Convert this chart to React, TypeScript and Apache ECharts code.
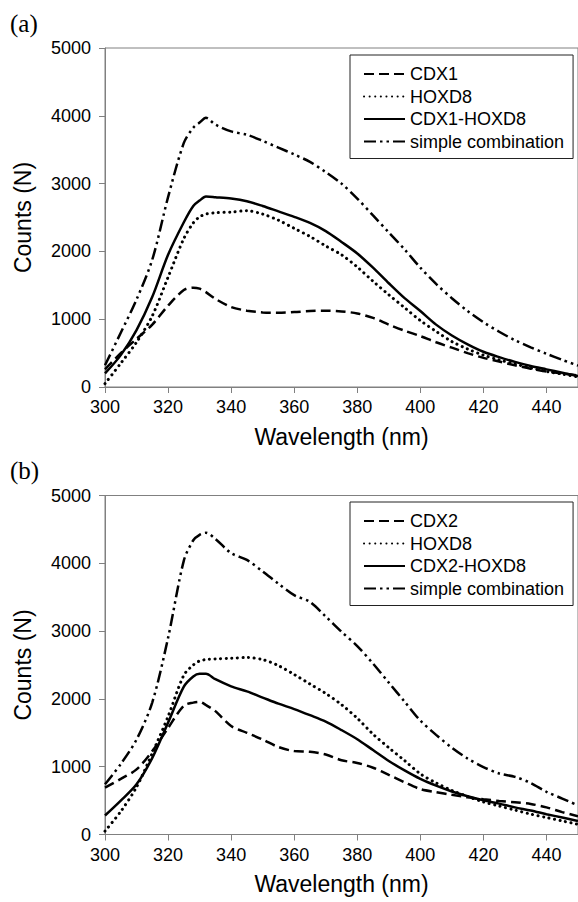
import React, { useEffect, useRef } from "react";
import * as echarts from "echarts";

const wavelengths = [300, 305, 310, 315, 320, 325, 328, 330, 332, 335, 340, 345, 350, 355, 360, 365, 370, 375, 380, 385, 390, 395, 400, 405, 410, 415, 420, 425, 430, 435, 440, 445, 450];

const xTicks = [300, 320, 340, 360, 380, 400, 420, 440];
const yTicks = [0, 1000, 2000, 3000, 4000, 5000];

// Panel (a)
const cdx1A = [260, 500, 710, 920, 1200, 1430, 1465, 1450, 1400, 1300, 1180, 1125, 1100, 1095, 1105, 1120, 1125, 1115, 1085, 1020, 920, 830, 750, 660, 580, 500, 430, 375, 320, 270, 230, 200, 170];
const hoxd8A = [50, 350, 660, 1050, 1620, 2190, 2420, 2510, 2550, 2570, 2580, 2600, 2550, 2460, 2340, 2220, 2080, 1950, 1770, 1560, 1360, 1170, 980, 820, 670, 560, 470, 400, 340, 280, 230, 190, 150];
const cdx1HoxA = [200, 470, 840, 1330, 1950, 2430, 2670, 2750, 2810, 2800, 2780, 2740, 2670, 2590, 2510, 2420, 2300, 2140, 1970, 1760, 1530, 1310, 1120, 920, 760, 630, 520, 440, 370, 310, 260, 210, 160];
const simpleA = [320, 800, 1290, 1880, 2800, 3600, 3825, 3900, 3970, 3870, 3770, 3720, 3630, 3530, 3430, 3320, 3170, 3000, 2780, 2530, 2280, 2030, 1760, 1520, 1310, 1120, 955, 815, 690, 585, 490, 400, 315];

// Panel (b)
const cdx2B = [690, 820, 960, 1230, 1570, 1900, 1945, 1955, 1910, 1820, 1600, 1500, 1400, 1290, 1230, 1220, 1180, 1095, 1055, 985, 880, 770, 670, 625, 585, 548, 520, 495, 475, 450, 400, 330, 270];
const hoxd8B = [50, 340, 700, 1200, 1740, 2350, 2500, 2560, 2580, 2590, 2600, 2610, 2580, 2490, 2360, 2220, 2080, 1915, 1715, 1480, 1280, 1090, 895, 760, 650, 560, 480, 420, 360, 300, 250, 200, 150];
const cdx2HoxB = [280, 500, 740, 1130, 1650, 2180, 2330, 2370, 2370, 2290, 2185, 2110, 2020, 1930, 1850, 1760, 1665, 1540, 1405, 1245, 1085, 945, 820, 720, 635, 565, 505, 455, 400, 355, 300, 250, 200];
const simpleB = [740, 1040, 1400, 1950, 2900, 4040, 4340, 4420, 4450, 4360, 4150, 4050, 3880, 3700, 3530, 3430, 3215, 2990, 2780, 2520, 2240, 1960, 1680, 1470, 1280, 1120, 995, 900, 850, 760, 630, 530, 430];

const namesA = ["CDX1", "HOXD8", "CDX1-HOXD8", "simple combination"];
const namesB = ["CDX2", "HOXD8", "CDX2-HOXD8", "simple combination"];

const FONT = "'Liberation Sans', Arial, sans-serif";
const SERIF = "'Liberation Serif', 'Times New Roman', serif";

const styles: any[] = [
  { width: 2.5, type: [10, 5], cap: "butt" },
  { width: 3, type: [0.1, 5.5], cap: "round" },
  { width: 2.5, type: "solid", cap: "butt" },
  { width: 2.5, type: [12, 4, 2.5, 4, 2.5, 4], cap: "butt" },
];

function pairs(ys: number[]) {
  return wavelengths.map((x, i) => [x, ys[i]]);
}

export default function App() {
  const ref = useRef<HTMLDivElement>(null);
  useEffect(() => {
    if (!ref.current) return;
    const chart = echarts.init(ref.current, null, { renderer: "svg" });
    const gridTops = [48, 495.5];
    const grids = gridTops.map((t) => ({
      left: 105,
      top: t,
      width: 473,
      height: 339,
      show: true,
      borderColor: "#808080",
      borderWidth: 1,
      backgroundColor: "transparent",
    }));
    const xAxes = [0, 1].map((i) => ({
      type: "value",
      gridIndex: i,
      min: 300,
      max: 450,
      interval: 20,
      name: "Wavelength (nm)",
      nameLocation: "middle",
      nameGap: 38,
      nameTextStyle: { fontFamily: FONT, fontSize: 23, color: "#000" },
      axisLine: { show: true, lineStyle: { color: "#808080", width: 1 } },
      axisTick: { show: true, length: 6, lineStyle: { color: "#808080" } },
      axisLabel: {
        show: true,
        margin: 11,
        fontFamily: FONT,
        fontSize: 18,
        color: "#000",
        showMaxLabel: false,
        formatter: (v: number) => (xTicks.indexOf(v) >= 0 ? String(v) : ""),
      },
      splitLine: { show: false },
    }));
    const yAxes = [0, 1].map((i) => ({
      type: "value",
      gridIndex: i,
      min: 0,
      max: 5000,
      interval: 1000,
      name: "Counts (N)",
      nameLocation: "middle",
      nameGap: 71,
      nameTextStyle: { fontFamily: FONT, fontSize: 23, color: "#000" },
      axisLine: { show: true, lineStyle: { color: "#808080", width: 1 } },
      axisTick: { show: true, length: 6, lineStyle: { color: "#808080" } },
      axisLabel: {
        show: true,
        margin: 14,
        fontFamily: FONT,
        fontSize: 18,
        color: "#000",
        formatter: (v: number) => (yTicks.indexOf(v) >= 0 ? String(v) : ""),
      },
      splitLine: { show: false },
    }));
    const dataA = [cdx1A, hoxd8A, cdx1HoxA, simpleA];
    const dataB = [cdx2B, hoxd8B, cdx2HoxB, simpleB];
    const series: any[] = [];
    [dataA, dataB].forEach((set, p) => {
      const names = p === 0 ? namesA : namesB;
      set.forEach((ys, k) => {
        series.push({
          type: "line",
          name: names[k],
          xAxisIndex: p,
          yAxisIndex: p,
          data: pairs(ys),
          smooth: 0.3,
          symbol: "none",
          showSymbol: false,
          color: "#000",
          lineStyle: { color: "#000", ...styles[k] },
          z: 3,
        });
      });
    });
    const legendBase = {
      orient: "vertical",
      left: 350,
      itemWidth: 41,
      itemHeight: 14,
      itemGap: 4.5,
      padding: [10, 9, 8, 13],
      borderColor: "#222",
      borderWidth: 1,
      borderRadius: 0,
      backgroundColor: "#fff",
      selectedMode: false,
      itemStyle: { color: "rgba(0,0,0,0)", borderWidth: 0, opacity: 0 },
      textStyle: { fontFamily: FONT, fontSize: 18, color: "#000" },
    };
    chart.setOption({
      animation: false,
      backgroundColor: "#fff",
      grid: grids,
      xAxis: xAxes,
      yAxis: yAxes,
      legend: [
        { ...legendBase, top: 55, data: namesA },
        { ...legendBase, top: 502, data: namesB },
      ],
      graphic: [
        { type: "text", left: 10, top: 11, style: { text: "(a)", font: `25px ${SERIF}`, fill: "#000" } },
        { type: "text", left: 10, top: 458, style: { text: "(b)", font: `25px ${SERIF}`, fill: "#000" } },
      ],
      series,
    });
    return () => chart.dispose();
  }, []);
  return (
    <div
      ref={ref}
      style={{ position: "absolute", left: 0, top: 0, width: 578, height: 902, background: "#fff" }}
    />
  );
}
